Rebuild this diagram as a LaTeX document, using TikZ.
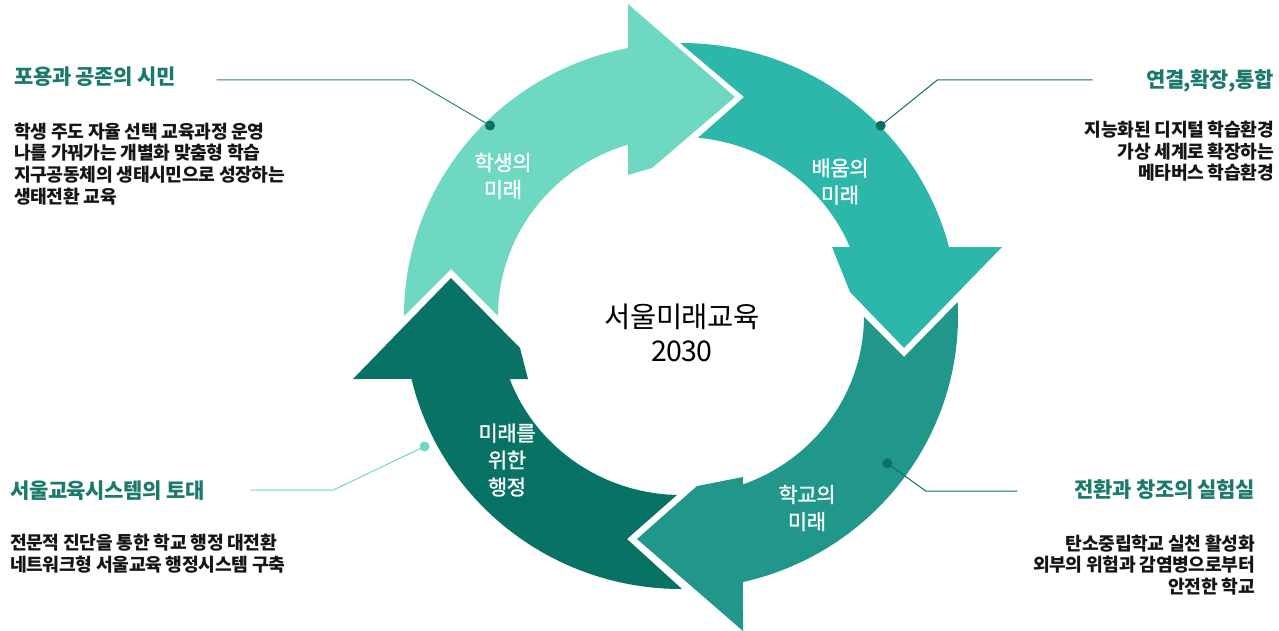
\documentclass[tikz,border=0pt]{standalone}
\usepackage{fontspec}
\newfontfamily\kr[LetterSpace=-2]{Noto Sans CJK KR}
\newfontfamily\krmed[LetterSpace=-2,FakeBold=1.2]{Noto Sans CJK KR}
\definecolor{aone}{HTML}{6FD8C2}
\definecolor{atwo}{HTML}{2DB7AA}
\definecolor{athree}{HTML}{21978B}
\definecolor{afour}{HTML}{087265}
\definecolor{tcol}{HTML}{1B7A6C}
\definecolor{ldark}{HTML}{0B6E61}
\definecolor{txt}{HTML}{151515}
\begin{document}
\begin{tikzpicture}[x=1pt,y=-1pt,
  ttl/.style={font=\kr\bfseries\fontsize{21}{25}\selectfont, text=tcol, inner sep=0pt},
  bodytext/.style={font=\kr\bfseries\fontsize{18.2}{21.6}\selectfont, text=txt, inner sep=0pt},
  lbl/.style={font=\krmed\fontsize{21}{27}\selectfont, text=white, align=center, inner sep=0pt},
  dotmark/.style={circle, inner sep=0pt, minimum size=10pt},
  leader/.style={line width=1pt}]
\useasboundingbox (0,0) rectangle (1279,631);
\coordinate (C) at (681,316);
% arrow 1 (light, top-left)
\fill[aone] ([shift={(C)}]180:277 and 273) arc[start angle=180, end angle=258.97, x radius=277, y radius=273]
  -- (628,4) -- (735,97) -- (652,168) -- (628,175)
  -- ([shift={(C)}]253.16:183 and 179) arc[start angle=253.16, end angle=180, x radius=183, y radius=179]
  -- (451,269) -- cycle;
% arrow 2 (teal, top-right)
\fill[atwo] ([shift={(C)}]269.8:277 and 273) arc[start angle=269.8, end angle=345.36, x radius=277, y radius=273]
  -- (1002,247) -- (904,348) -- (850,292) -- (832,247)
  -- ([shift={(C)}]337.33:183 and 179) arc[start angle=337.33, end angle=275.33, x radius=183, y radius=179]
  -- (744,97) -- cycle;
% arrow 3 (bottom-right)
\fill[athree] ([shift={(C)}]-2.94:277 and 273) arc[start angle=-2.94, end angle=77.07, x radius=277, y radius=273]
  -- (743,631) -- (637,539) -- (697,486) -- (743,477)
  -- ([shift={(C)}]70.2:183 and 179) arc[start angle=70.2, end angle=0.3, x radius=183, y radius=179]
  -- (904,357) -- cycle;
% arrow 4 (dark, bottom-left)
\fill[afour] ([shift={(C)}]89.8:277 and 273) arc[start angle=89.8, end angle=166.66, x radius=277, y radius=273]
  -- (353,379) -- (451,278) -- (520,348) -- (528,379)
  -- ([shift={(C)}]159.39:183 and 179) arc[start angle=159.39, end angle=91.25, x radius=183, y radius=179]
  -- (627,539) -- cycle;

% arrow labels
\node[lbl] (la) at (503,176) {학생의\\미래};
\node[lbl] (lb) at (840,181.5) {배움의\\미래};
\node[lbl] (lc) at (807,508) {학교의\\미래};
\node[lbl] (ld) at (507,460) {미래를\\위한\\행정};
\node[font=\kr\fontsize{28.5}{34}\selectfont, text=black, align=center, inner sep=0pt] (ctr) at (682,333) {서울미래교육\\2030};

% leader dots
\node[dotmark, fill=ldark] (d1) at (490,125.5) {};
\node[dotmark, fill=ldark] (d2) at (880.7,125.7) {};
\node[dotmark, fill=ldark!90!athree] (d3) at (887.3,463.3) {};
\node[dotmark, fill=aone] (d4) at (424.5,446.5) {};
\coordinate (b1) at (412.3,80); \coordinate (e1) at (216.7,80);
\coordinate (b2) at (937.3,80); \coordinate (e2) at (1092.7,80);
\coordinate (b3) at (925.7,491); \coordinate (e3) at (1017.3,491);
\coordinate (b4) at (333.3,490); \coordinate (e4) at (250.7,490);
\draw[leader, color=tcol!85!aone] (d1.center) -- (b1) -- (e1);
\draw[leader, color=afour] (d2.center) -- (b2) -- (e2);
\draw[leader, color=afour] (d3.center) -- (b3) -- (e3);
\draw[leader, color=aone] (d4.center) -- (b4) -- (e4);

% side texts (multi-line nodes: base anchor = last line baseline)
\node[ttl, anchor=base west] (t1) at (14,85) {포용과 공존의 시민};
\node[bodytext, anchor=base west, align=left] (s1) at (14,203.2)
  {학생 주도 자율 선택 교육과정 운영\\나를 가꿔가는 개별화 맞춤형 학습\\지구공동체의 생태시민으로 성장하는\\생태전환 교육};
\node[ttl, anchor=base east] (t2) at (1274,88) {연결,확장,통합};
\node[bodytext, anchor=base east, align=right] (s2) at (1274,179.8)
  {지능화된 디지털 학습환경\\가상 세계로 확장하는\hspace{3pt}\\메타버스 학습환경};
\node[ttl, anchor=base west] (t3) at (10,498) {서울교육시스템의 토대};
\node[bodytext, anchor=base west, align=left] (s3) at (10,571.5)
  {전문적 진단을 통한 학교 행정 대전환\\네트워크형 서울교육 행정시스템 구축};
\node[ttl, anchor=base east] (t4) at (1255,497.5) {전환과 창조의 실험실};
\node[bodytext, anchor=base east, align=right] (s4) at (1255,593.2)
  {탄소중립학교 실천 활성화\\외부의 위험과 감염병으로부터\\안전한 학교};
\end{tikzpicture}
\end{document}
